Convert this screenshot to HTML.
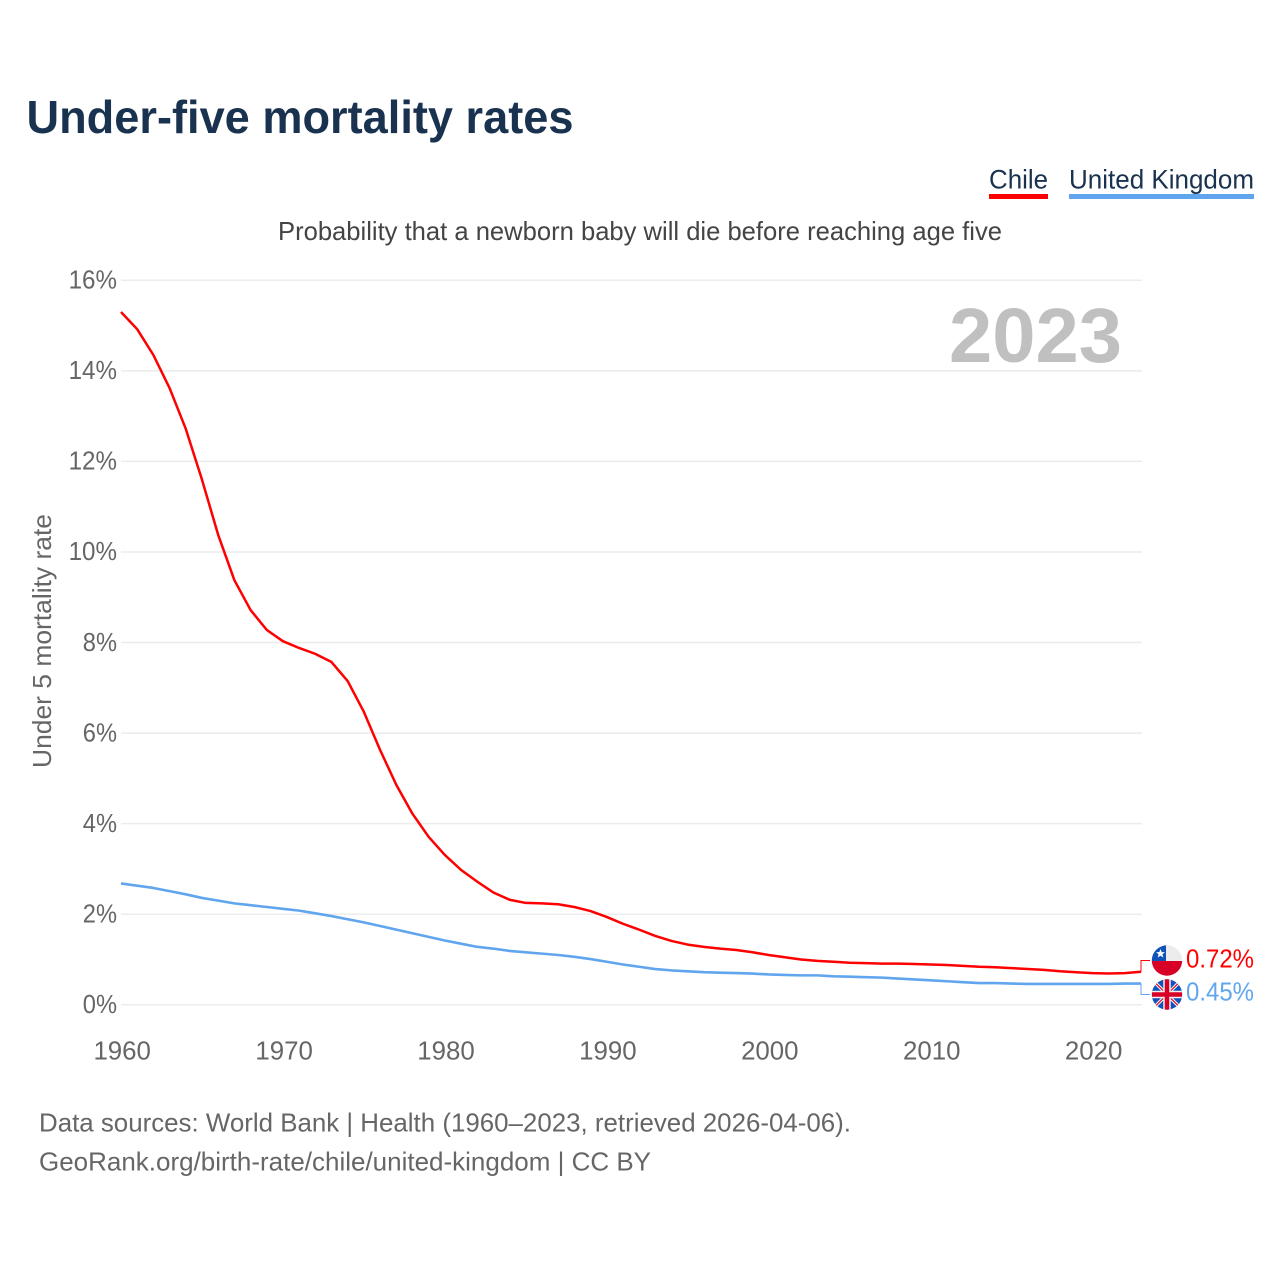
<!DOCTYPE html>
<html lang="en">
<head>
<meta charset="utf-8">
<title>Under-five mortality rates</title>
<style>
html,body{margin:0;padding:0;background:#fff;}
svg{display:block;font-family:"Liberation Sans",sans-serif;}
</style>
</head>
<body>
<svg id="chart" xmlns="http://www.w3.org/2000/svg" width="1280" height="1280" viewBox="0 0 1280 1280">
  <defs>
    <clipPath id="clip-chile"><circle cx="1167" cy="960.5" r="15.2"/></clipPath>
    <clipPath id="clip-uk"><circle cx="1167" cy="994.5" r="15.2"/></clipPath>
  </defs>
  <text x="26.5" y="133" font-size="46" font-weight="700" fill="#19324f" textLength="547" lengthAdjust="spacingAndGlyphs">Under-five mortality rates</text>

  <g>
    <g>
      <text x="989" y="188.5" font-size="27" fill="#19324f" textLength="59" lengthAdjust="spacingAndGlyphs">Chile</text>
      <rect x="989" y="194" width="59" height="5" fill="#ff0000"/>
    </g>
    <g>
      <text x="1069" y="188.5" font-size="27" fill="#19324f" textLength="185" lengthAdjust="spacingAndGlyphs">United Kingdom</text>
      <rect x="1069" y="194" width="185" height="5" fill="#60a5ee"/>
    </g>
  </g>

  <text x="278" y="240" font-size="26" fill="#444444" textLength="724" lengthAdjust="spacingAndGlyphs">Probability that a newborn baby will die before reaching age five</text>

  <g id="grid"></g>
  <g id="y-ticks"></g>
  <g id="x-ticks"></g>

  <text transform="translate(51 768) rotate(-90)" x="0" y="0" font-size="26" fill="#666666" textLength="254" lengthAdjust="spacingAndGlyphs">Under 5 mortality rate</text>

  <text x="949" y="362" font-size="77" font-weight="700" fill="#c0c0c0" textLength="173" lengthAdjust="spacingAndGlyphs">2023</text>

  <g id="series"></g>
  <g id="ends"></g>

  <g clip-path="url(#clip-chile)">
    <rect x="1151" y="945" width="32" height="16" fill="#ececec"/>
    <rect x="1151" y="961" width="32" height="16" fill="#d80027"/>
    <rect x="1151" y="945" width="15" height="16" fill="#0f52ba"/>
    <polygon points="1160.5,949 1161.7,952.1 1165,952.3 1162.4,954.3 1163.3,957.5 1160.5,955.7 1157.7,957.5 1158.6,954.3 1156,952.3 1159.3,952.1" fill="#ffffff"/>
  </g>
  <g clip-path="url(#clip-uk)">
    <rect x="1151" y="979" width="32" height="31" fill="#0f52ba"/>
    <path d="M1152 979.5L1182 1009.5M1182 979.5L1152 1009.5" stroke="#f0f0f0" stroke-width="3.4"/>
    <path d="M1152 979.5L1182 1009.5M1182 979.5L1152 1009.5" stroke="#d80027" stroke-width="1.2"/>
    <path d="M1167 979V1010M1152 994.5H1182" stroke="#f0f0f0" stroke-width="7.5"/>
    <path d="M1167 979V1010M1152 994.5H1182" stroke="#d80027" stroke-width="4.5"/>
  </g>

  <text x="39" y="1131.5" font-size="26" fill="#666666" textLength="812" lengthAdjust="spacingAndGlyphs">Data sources: World Bank | Health (1960–2023, retrieved 2026-04-06).</text>
  <text x="39" y="1170.5" font-size="26" fill="#666666" textLength="612" lengthAdjust="spacingAndGlyphs">GeoRank.org/birth-rate/chile/united-kingdom | CC BY</text>
</svg>

<script>
const years = [1960,1961,1962,1963,1964,1965,1966,1967,1968,1969,1970,1971,1972,1973,1974,1975,1976,1977,1978,1979,1980,1981,1982,1983,1984,1985,1986,1987,1988,1989,1990,1991,1992,1993,1994,1995,1996,1997,1998,1999,2000,2001,2002,2003,2004,2005,2006,2007,2008,2009,2010,2011,2012,2013,2014,2015,2016,2017,2018,2019,2020,2021,2022,2023];
const chileValues = [15.3,14.92,14.35,13.62,12.72,11.6,10.38,9.38,8.72,8.28,8.03,7.88,7.75,7.57,7.15,6.47,5.63,4.86,4.22,3.71,3.31,2.98,2.72,2.48,2.32,2.25,2.24,2.22,2.16,2.07,1.94,1.79,1.66,1.52,1.41,1.33,1.28,1.24,1.21,1.16,1.1,1.05,1.0,0.97,0.95,0.93,0.92,0.91,0.91,0.9,0.89,0.88,0.86,0.84,0.83,0.81,0.79,0.77,0.74,0.72,0.7,0.69,0.7,0.73];
const ukValues = [2.68,2.63,2.58,2.51,2.44,2.36,2.3,2.24,2.2,2.16,2.12,2.08,2.02,1.96,1.89,1.82,1.74,1.66,1.58,1.5,1.42,1.35,1.28,1.24,1.19,1.16,1.13,1.1,1.06,1.01,0.95,0.89,0.84,0.79,0.76,0.74,0.72,0.71,0.7,0.69,0.67,0.66,0.65,0.65,0.63,0.62,0.61,0.6,0.58,0.56,0.54,0.52,0.5,0.48,0.48,0.47,0.46,0.46,0.46,0.46,0.46,0.46,0.47,0.47];
const yTickValues = [0,2,4,6,8,10,12,14,16];
const xTickValues = [1960,1970,1980,1990,2000,2010,2020];
const endValueLabels = ['0.72%','0.45%'];

const NS = 'http://www.w3.org/2000/svg';
const xScale = function (year) { return 121 + (year - 1960) * (1020 / 63); };
const yScale = function (value) { return 1004.8 - value * (724.5 / 16); };

function make(tag, parent, attrs) {
  const el = document.createElementNS(NS, tag);
  Object.keys(attrs).forEach(function (k) { el.setAttribute(k, attrs[k]); });
  parent.appendChild(el);
  return el;
}
function labelWidth(s) {
  let w = 0;
  for (const c of s) { w += c === '%' ? 20 : (c === '.' ? 6.5 : 14.2); }
  return w;
}

const grid = document.getElementById('grid');
const yG = document.getElementById('y-ticks');
const xG = document.getElementById('x-ticks');

yTickValues.forEach(function (v) {
  const line = make('line', grid, { x1: 121, x2: 1142, y1: yScale(v), y2: yScale(v), stroke: '#ececec', 'stroke-width': 1.5 });
  
  
  const s = v + '%';
  const t = make('text', yG, { x: 117, y: yScale(v) + 8.2, 'font-size': 26, fill: '#666666', 'text-anchor': 'end', textLength: labelWidth(s), lengthAdjust: 'spacingAndGlyphs' });
  
  
  t.textContent = s;
});

xTickValues.forEach(function (v) {
  const s = String(v);
  const t = make('text', xG, { x: xScale(v) + 1.2, y: 1059.5, 'font-size': 26, fill: '#666666', 'text-anchor': 'middle', textLength: 57.5, lengthAdjust: 'spacingAndGlyphs' });
  
  
  t.textContent = s;
});

function linePoints(values) {
  return values.map(function (v, i) { return xScale(years[i]).toFixed(2) + ',' + yScale(v).toFixed(2); }).join(' ');
}

const seriesG = document.getElementById('series');
const ukLine = make('polyline', seriesG, { points: linePoints(ukValues), fill: 'none', stroke: '#60a5ee', 'stroke-width': 2.6, 'stroke-linejoin': 'round' });


const chileLine = make('polyline', seriesG, { points: linePoints(chileValues), fill: 'none', stroke: '#ff0000', 'stroke-width': 2.5, 'stroke-linejoin': 'round' });



const endsG = document.getElementById('ends');
const lastX = xScale(years[years.length - 1]);
const chileLast = chileValues[chileValues.length - 1];
const ukLast = ukValues[ukValues.length - 1];

const chileConn = make('polyline', endsG, { points: lastX + ',' + yScale(chileLast) + ' ' + lastX + ',960.5 1150,960.5', fill: 'none', stroke: '#ff0000', 'stroke-width': 1 });


const ukConn = make('polyline', endsG, { points: lastX + ',' + yScale(ukLast) + ' ' + lastX + ',994.5 1150,994.5', fill: 'none', stroke: '#60a5ee', 'stroke-width': 1 });



const chileEnd = make('text', endsG, { x: 1186, y: 967.5, 'font-size': 26, fill: '#ff0000', textLength: 68, lengthAdjust: 'spacingAndGlyphs' });


chileEnd.textContent = endValueLabels[0];
const ukEnd = make('text', endsG, { x: 1186, y: 1000.5, 'font-size': 26, fill: '#60a5ee', textLength: 68, lengthAdjust: 'spacingAndGlyphs' });


ukEnd.textContent = endValueLabels[1];
</script>
</body>
</html>
